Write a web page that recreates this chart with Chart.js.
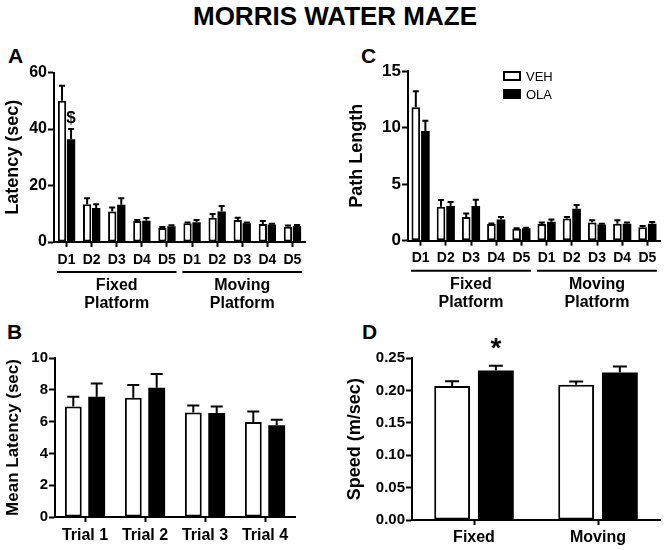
<!DOCTYPE html>
<html>
<head>
<meta charset="utf-8">
<script src="https://cdn.jsdelivr.net/npm/chart.js@4"></script>
<style>
html,body{margin:0;padding:0;background:#fff;}
body{width:667px;height:550px;position:relative;overflow:hidden;font-family:'Liberation Sans',Arial,sans-serif;color:#000;}
#title{position:absolute;left:0;top:0.5px;width:670px;text-align:center;font-weight:bold;font-size:26px;line-height:30px;white-space:nowrap;}
.panel{position:absolute;}
.letter{position:absolute;font-weight:bold;font-size:21px;line-height:21px;}
</style>
</head>
<body>
<div id="title">MORRIS WATER MAZE</div>
<div class="letter" style="left:8px;top:45px">A</div>
<div class="letter" style="left:361px;top:45px">C</div>
<div class="letter" style="left:7px;top:321px">B</div>
<div class="letter" style="left:362px;top:321px">D</div>
<div class="panel" style="left:0;top:40px;width:330px;height:280px"><canvas id="cA"></canvas></div>
<div class="panel" style="left:330px;top:40px;width:337px;height:280px"><canvas id="cC"></canvas></div>
<div class="panel" style="left:0;top:310px;width:330px;height:240px"><canvas id="cB"></canvas></div>
<div class="panel" style="left:330px;top:310px;width:337px;height:240px"><canvas id="cD"></canvas></div>
<script>
// ---------- DATA ----------
const seriesNames = ['VEH', 'OLA'];
const dayLabels = ['D1','D2','D3','D4','D5','D1','D2','D3','D4','D5'];
const groupNames = [['Fixed','Platform'], ['Moving','Platform']];
const groupFirst = [0, 5];
const groupLast = [4, 9];

// A: escape latency (sec)
const latencyVeh    = [50.0, 13.4, 10.8, 7.4, 5.0, 6.6, 8.6, 7.8, 6.4, 5.4];
const latencyVehSem = [5.3, 2.1, 1.4, 0.4, 0.3, 0.3, 1.3, 0.8, 1.0, 0.4];
const latencyOla    = [36.4, 12.0, 13.2, 7.5, 5.6, 7.0, 10.8, 6.6, 6.2, 5.7];
const latencyOlaSem = [3.6, 1.4, 2.3, 1.0, 0.3, 0.8, 1.9, 0.3, 0.3, 0.3];
const latencyTicks  = [0, 60, 20];   // min, max, step

// C: path length
const pathVeh    = [11.8, 3.0, 2.1, 1.47, 1.06, 1.47, 1.97, 1.6, 1.5, 1.18];
const pathVehSem = [1.4, 0.6, 0.3, 0.05, 0.05, 0.13, 0.13, 0.2, 0.3, 0.12];
const pathOla    = [9.7, 3.06, 3.06, 1.88, 1.1, 1.68, 2.82, 1.44, 1.5, 1.5];
const pathOlaSem = [0.9, 0.35, 0.55, 0.22, 0.05, 0.2, 0.33, 0.06, 0.1, 0.15];
const pathTicks  = [0, 15, 5];

// B: mean latency per trial (sec)
const trialLabels = ['Trial 1','Trial 2','Trial 3','Trial 4'];
const meanLatVeh    = [6.95, 7.5, 6.58, 5.98];
const meanLatVehSem = [0.62, 0.8, 0.43, 0.66];
const meanLatOla    = [7.57, 8.13, 6.54, 5.77];
const meanLatOlaSem = [0.83, 0.87, 0.41, 0.35];
const meanLatTicks  = [0, 10, 2];

// D: swim speed (m/sec)
const platformLabels = ['Fixed','Moving'];
const speedVeh    = [0.207, 0.209];
const speedVehSem = [0.0076, 0.0051];
const speedOla    = [0.231, 0.228];
const speedOlaSem = [0.0076, 0.0092];
const speedTicks  = [0, 0.25, 0.05];

// ---------- PLUGINS ----------
const FONT = "'Liberation Sans', Arial, sans-serif";
Chart.defaults.font.family = FONT;
Chart.defaults.color = '#000';

const errPlugin = {
  id: 'errbars',
  afterDatasetsDraw(chart, args, opts) {
    const ctx = chart.ctx, ys = chart.scales.y;
    chart.data.datasets.forEach((ds, i) => {
      const meta = chart.getDatasetMeta(i);
      meta.data.forEach((el, j) => {
        const top = ys.getPixelForValue(ds.data[j] + ds.sem[j]);
        ctx.save();
        ctx.strokeStyle = '#000';
        ctx.lineWidth = 2;
        ctx.beginPath();
        ctx.moveTo(el.x, el.y);
        ctx.lineTo(el.x, top);
        ctx.moveTo(el.x - opts.cap / 2, top);
        ctx.lineTo(el.x + opts.cap / 2, top);
        ctx.stroke();
        ctx.restore();
      });
    });
  }
};

const groupPlugin = {
  id: 'groups',
  afterDraw(chart, args, opts) {
    if (!opts.names) return;
    const ctx = chart.ctx, xs = chart.scales.x;
    const half = (xs.right - xs.left) / chart.data.labels.length / 2;
    opts.names.forEach((lines, g) => {
      const x1 = xs.getPixelForValue(opts.first[g]) - half + 3;
      const x2 = xs.getPixelForValue(opts.last[g]) + half - 3;
      const y0 = xs.top;
      ctx.save();
      ctx.strokeStyle = '#000';
      ctx.lineWidth = 2;
      ctx.beginPath();
      ctx.moveTo(x1, y0 + opts.lineOffset);
      ctx.lineTo(x2, y0 + opts.lineOffset);
      ctx.stroke();
      ctx.fillStyle = '#000';
      ctx.font = 'bold ' + opts.size + 'px ' + FONT;
      ctx.textAlign = 'center';
      ctx.textBaseline = 'middle';
      lines.forEach((t, k) => ctx.fillText(t, (x1 + x2) / 2, y0 + opts.textOffset + k * opts.lineHeight));
      ctx.restore();
    });
  }
};

const markPlugin = {
  id: 'marks',
  afterDraw(chart, args, opts) {
    if (!opts.items) return;
    const ctx = chart.ctx, ys = chart.scales.y;
    opts.items.forEach(m => {
      const ds = chart.data.datasets[m.ds];
      const el = chart.getDatasetMeta(m.ds).data[m.idx];
      const top = ys.getPixelForValue(ds.data[m.idx] + ds.sem[m.idx]);
      ctx.save();
      ctx.fillStyle = '#000';
      ctx.font = 'bold ' + m.size + 'px ' + FONT;
      ctx.textAlign = 'center';
      ctx.textBaseline = 'alphabetic';
      ctx.fillText(m.text, el.x, top - m.gap);
      ctx.restore();
    });
  }
};

const legendPlugin = {
  id: 'boxlegend',
  afterDraw(chart, args, opts) {
    if (!opts.show) return;
    const ctx = chart.ctx;
    chart.data.datasets.forEach((ds, i) => {
      const y = opts.y + i * opts.step;
      ctx.save();
      if (ds.borderWidth) {
        ctx.fillStyle = ds.backgroundColor;
        ctx.fillRect(opts.x, y, opts.w, opts.h);
        ctx.strokeStyle = '#000';
        ctx.lineWidth = 2;
        ctx.strokeRect(opts.x + 1, y + 1, opts.w - 2, opts.h - 2);
      } else {
        ctx.fillStyle = ds.backgroundColor;
        ctx.fillRect(opts.x, y, opts.w, opts.h);
      }
      ctx.fillStyle = '#000';
      ctx.font = opts.size + 'px ' + FONT;
      ctx.textAlign = 'left';
      ctx.textBaseline = 'middle';
      ctx.fillText(ds.label, opts.x + opts.w + 5, y + opts.h / 2 + 1);
      ctx.restore();
    });
  }
};

function makePanel(id, o) {
  const gridCommon = {display: true, drawOnChartArea: false, drawTicks: true, tickWidth: 2, tickColor: '#000', color: '#000'};
  return new Chart(document.getElementById(id), {
    type: 'bar',
    data: {
      labels: o.labels,
      datasets: [
        {label: seriesNames[0], data: o.veh, sem: o.vehSem, backgroundColor: '#fff', borderColor: '#000',
         borderWidth: 2, borderSkipped: false, categoryPercentage: o.cat, barPercentage: o.bar},
        {label: seriesNames[1], data: o.ola, sem: o.olaSem, backgroundColor: '#000', borderColor: '#000',
         borderWidth: 0, categoryPercentage: o.cat, barPercentage: o.bar}
      ]
    },
    options: {
      responsive: true, maintainAspectRatio: false, animation: false, devicePixelRatio: 1,
      layout: {padding: {top: o.padTop, right: o.padRight, left: 0, bottom: 0}},
      events: [],
      plugins: {
        legend: {display: false},
        tooltip: {enabled: false},
        errbars: {cap: o.cap},
        groups: o.groups || {},
        marks: o.marks || {},
        boxlegend: o.legend || {show: false}
      },
      scales: {
        x: {
          type: 'category', offset: true,
          grid: Object.assign({offset: false, tickLength: 5}, gridCommon),
          border: {display: true, color: '#000', width: 2},
          ticks: {font: {size: o.xFont, weight: 'bold'}, color: '#000', padding: o.xPad,
                  autoSkip: false, maxRotation: 0, minRotation: 0},
          afterFit(s) { s.height = o.xHeight; }
        },
        y: {
          min: o.ticks[0], max: o.ticks[1],
          grid: Object.assign({tickLength: 6}, gridCommon),
          border: {display: true, color: '#000', width: 2},
          ticks: {stepSize: o.ticks[2], font: {size: o.yFont, weight: 'bold'}, color: '#000', padding: 1,
                  callback: o.fmt || (v => v)},
          title: {display: true, text: o.yTitle, color: '#000', font: {size: o.titleFont, weight: 'bold'},
                  padding: {top: o.titlePad, bottom: 0}},
          afterFit(s) { s.width = o.yWidth; }
        }
      }
    },
    plugins: [errPlugin, groupPlugin, markPlugin, legendPlugin]
  });
}

// Panel A
makePanel('cA', {
  labels: dayLabels, veh: latencyVeh, vehSem: latencyVehSem, ola: latencyOla, olaSem: latencyOlaSem,
  ticks: latencyTicks, yTitle: 'Latency (sec)',
  padTop: 32.5, padRight: 25, yWidth: 54, xHeight: 78,
  cat: 0.72, bar: 0.92, cap: 6, xFont: 14, xPad: 4.6, yFont: 16, titleFont: 18, titlePad: 2.2,
  groups: {names: groupNames, first: groupFirst, last: groupLast, lineOffset: 30, textOffset: 44, lineHeight: 18, size: 16},
  marks: {items: [{ds: 1, idx: 0, text: '$', size: 17, gap: 6}]}
});

// Panel C
makePanel('cC', {
  labels: dayLabels, veh: pathVeh, vehSem: pathVehSem, ola: pathOla, olaSem: pathOlaSem,
  ticks: pathTicks, yTitle: 'Path Length',
  padTop: 31, padRight: 7, yWidth: 78, xHeight: 79.3,
  cat: 0.76, bar: 0.9, cap: 6, xFont: 14, xPad: 4.2, yFont: 17, titleFont: 18, titlePad: 15.9,
  groups: {names: groupNames, first: groupFirst, last: groupLast, lineOffset: 30, textOffset: 44, lineHeight: 18, size: 16},
  legend: {show: true, x: 173, y: 31, w: 18, h: 10, step: 18, size: 13}
});

// Panel B
makePanel('cB', {
  labels: trialLabels, veh: meanLatVeh, vehSem: meanLatVehSem, ola: meanLatOla, olaSem: meanLatOlaSem,
  ticks: meanLatTicks, yTitle: 'Mean Latency (sec)',
  padTop: 48, padRight: 35, yWidth: 55, xHeight: 33,
  cat: 0.78, bar: 0.72, cap: 12, xFont: 16, xPad: 4, yFont: 15, titleFont: 17, titlePad: 2.8
});

// Panel D
makePanel('cD', {
  labels: platformLabels, veh: speedVeh, vehSem: speedVehSem, ola: speedOla, olaSem: speedOlaSem,
  ticks: speedTicks, yTitle: 'Speed (m/sec)', fmt: v => Number(v).toFixed(2),
  padTop: 48.3, padRight: 7, yWidth: 82, xHeight: 30,
  cat: 0.705, bar: 0.82, cap: 14, xFont: 16, xPad: 3, yFont: 15, titleFont: 18, titlePad: 14.2,
  marks: {items: [{ds: 1, idx: 0, text: '*', size: 28, gap: 9}]}
});
</script>
</body>
</html>
